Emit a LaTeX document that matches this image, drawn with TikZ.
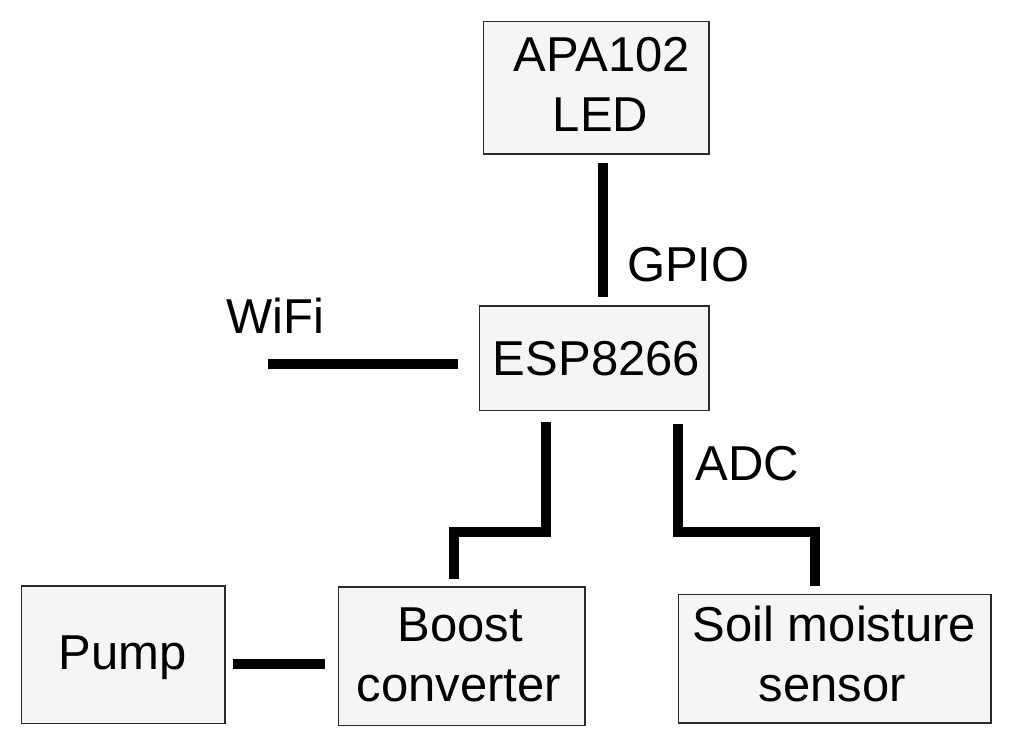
\documentclass[tikz,border=0pt]{standalone}
\usepackage{fontspec}
\setmainfont{Liberation Sans}
\definecolor{boxfill}{HTML}{F5F5F5}
\definecolor{boxline}{HTML}{2A2A2A}
\begin{document}
\begin{tikzpicture}[x=1pt,y=-1pt,
  box/.style={draw=boxline,line width=1.6pt,fill=boxfill,inner sep=0pt,outer sep=0pt},
  txt/.style={anchor=base,inner sep=0pt,font=\fontsize{49}{60}\selectfont},
  wire/.style={line width=9.6pt,line cap=butt,line join=miter,black}]
\useasboundingbox (0,0) rectangle (1012,745);
% boxes
\node[box,minimum width=225.4pt,minimum height=132.7pt] (apa) at (596,87.7) {};
\node[box,minimum width=229.4pt,minimum height=104.7pt] (esp) at (594,358.3) {};
\node[box,minimum width=203.4pt,minimum height=137.3pt] (pump) at (123,654.7) {};
\node[box,minimum width=246.7pt,minimum height=138.6pt] (boost) at (461.7,656) {};
\node[box,minimum width=312.4pt,minimum height=128.4pt] (soil) at (834.5,658.5) {};
% texts
\node[txt] (apa1) at (602,71.7) {APA102};
\node[txt] (apa2) at (600.5,131.7) {LED};
\node[txt] (esp1) at (596.5,375) {ESP8266};
\node[txt] (pump1) at (122.5,669) {Pump};
\node[txt] (boost1) at (460,641.7) {Boost};
\node[txt] (boost2) at (459,701) {converter};
\node[txt] (soil1) at (834.3,641.7) {Soil moisture};
\node[txt] (soil2) at (832.5,701.7) {sensor};
\node[txt] (gpio) at (688.3,281.7) {GPIO};
\node[txt] (wifi) at (275,333.3) {WiFi};
\node[txt] (adc) at (747.5,480) {ADC};
% connectors
\coordinate (wifiend) at (267.7,364);
\draw[wire] ([xshift=7pt,yshift=-9.3pt]apa.south) -- ([xshift=9pt,yshift=8.7pt]esp.north);
\draw[wire] (wifiend) -- ([xshift=-21pt,yshift=-5.7pt]esp.west);
\draw[wire] ([xshift=-48pt,yshift=-11.3pt]esp.south) -- ++(0,110) -| ([xshift=-7.7pt,yshift=8pt]boost.north);
\draw[wire] ([xshift=84pt,yshift=-13.3pt]esp.south) -- ++(0,108) -| ([xshift=-19.5pt,yshift=8.6pt]soil.north);
\draw[wire] ([xshift=8pt,yshift=-9.3pt]pump.east) -- ([xshift=-13.3pt,yshift=-8pt]boost.west);
\end{tikzpicture}
\end{document}
